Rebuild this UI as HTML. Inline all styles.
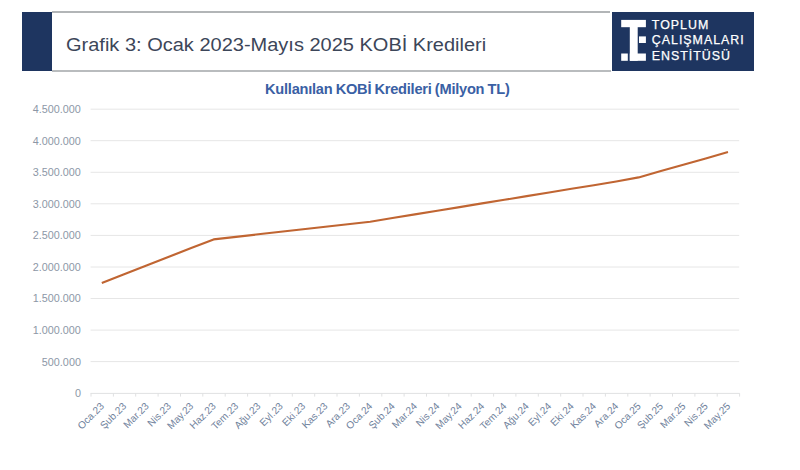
<!DOCTYPE html>
<html><head><meta charset="utf-8">
<style>
html,body{margin:0;padding:0;}
body{width:800px;height:470px;overflow:hidden;background:#fff;position:relative;font-family:"Liberation Sans",sans-serif;}
.hl{position:absolute;left:51.8px;width:557.8px;height:2px;background:#b2b5b7;}
.nav{position:absolute;left:22.4px;top:11.8px;width:29.4px;height:59px;background:#1e3560;}
.title{position:absolute;left:65.8px;top:34.5px;font-size:17.5px;color:#3c4659;white-space:nowrap;transform:scaleX(1.143);transform-origin:0 0;}
.logo{position:absolute;left:611.5px;top:12px;width:142px;height:58.5px;background:#1e3560;}
.lt{position:absolute;left:651.8px;color:#fff;font-size:12.4px;letter-spacing:1.0px;-webkit-text-stroke:0.25px #fff;white-space:nowrap;line-height:1;}
.ctitle{position:absolute;left:265.3px;top:79.9px;font-size:15.3px;font-weight:bold;color:#3a60a4;white-space:nowrap;word-spacing:-0.6px;letter-spacing:-0.25px;transform:scaleX(0.955);transform-origin:0 0;}
svg{position:absolute;left:0;top:0;}
</style></head><body>
<div class="hl" style="top:11px"></div><div class="hl" style="top:69.8px;width:559.7px;height:1.8px;background:#b9bcbe"></div>
<div class="nav"></div>
<div class="title">Grafik 3: Ocak 2023-Mayıs 2025 KOBİ Kredileri</div>
<div class="logo"></div>
<svg width="800" height="470" viewBox="0 0 800 470">
<g fill="#fff">
<rect x="621.2" y="19.9" width="24.7" height="7.3"/>
<rect x="629.8" y="27" width="7.9" height="33.8"/>
<rect x="629.8" y="53.5" width="16.1" height="7.3"/>
<rect x="621.2" y="53.5" width="6.6" height="7.3"/>
<rect x="639" y="36.4" width="6.9" height="6.6"/>
</g>
<g stroke="#e6e6e6" stroke-width="1"><line x1="90.6" y1="361.6" x2="739.2" y2="361.6"/><line x1="90.6" y1="330.1" x2="739.2" y2="330.1"/><line x1="90.6" y1="298.5" x2="739.2" y2="298.5"/><line x1="90.6" y1="267.0" x2="739.2" y2="267.0"/><line x1="90.6" y1="235.4" x2="739.2" y2="235.4"/><line x1="90.6" y1="203.8" x2="739.2" y2="203.8"/><line x1="90.6" y1="172.3" x2="739.2" y2="172.3"/><line x1="90.6" y1="140.7" x2="739.2" y2="140.7"/><line x1="90.6" y1="109.2" x2="739.2" y2="109.2"/></g>
<g stroke="#e0e1e2" stroke-width="1"><line x1="90.6" y1="393.4" x2="739.6" y2="393.4"/><line x1="91.0" y1="393.2" x2="91.0" y2="396.6"/><line x1="113.4" y1="393.2" x2="113.4" y2="396.6"/><line x1="135.7" y1="393.2" x2="135.7" y2="396.6"/><line x1="158.1" y1="393.2" x2="158.1" y2="396.6"/><line x1="180.5" y1="393.2" x2="180.5" y2="396.6"/><line x1="202.8" y1="393.2" x2="202.8" y2="396.6"/><line x1="225.2" y1="393.2" x2="225.2" y2="396.6"/><line x1="247.6" y1="393.2" x2="247.6" y2="396.6"/><line x1="269.9" y1="393.2" x2="269.9" y2="396.6"/><line x1="292.3" y1="393.2" x2="292.3" y2="396.6"/><line x1="314.7" y1="393.2" x2="314.7" y2="396.6"/><line x1="337.0" y1="393.2" x2="337.0" y2="396.6"/><line x1="359.4" y1="393.2" x2="359.4" y2="396.6"/><line x1="381.8" y1="393.2" x2="381.8" y2="396.6"/><line x1="404.1" y1="393.2" x2="404.1" y2="396.6"/><line x1="426.5" y1="393.2" x2="426.5" y2="396.6"/><line x1="448.8" y1="393.2" x2="448.8" y2="396.6"/><line x1="471.2" y1="393.2" x2="471.2" y2="396.6"/><line x1="493.6" y1="393.2" x2="493.6" y2="396.6"/><line x1="515.9" y1="393.2" x2="515.9" y2="396.6"/><line x1="538.3" y1="393.2" x2="538.3" y2="396.6"/><line x1="560.7" y1="393.2" x2="560.7" y2="396.6"/><line x1="583.0" y1="393.2" x2="583.0" y2="396.6"/><line x1="605.4" y1="393.2" x2="605.4" y2="396.6"/><line x1="627.8" y1="393.2" x2="627.8" y2="396.6"/><line x1="650.1" y1="393.2" x2="650.1" y2="396.6"/><line x1="672.5" y1="393.2" x2="672.5" y2="396.6"/><line x1="694.9" y1="393.2" x2="694.9" y2="396.6"/><line x1="717.2" y1="393.2" x2="717.2" y2="396.6"/><line x1="739.6" y1="393.2" x2="739.6" y2="396.6"/></g>
<g fill="#8c97a6" font-size="10.8" text-anchor="end" font-family="Liberation Sans"><text x="80.9" y="397.1">0</text><text x="80.9" y="365.5">500.000</text><text x="80.9" y="334.0">1.000.000</text><text x="80.9" y="302.4">1.500.000</text><text x="80.9" y="270.9">2.000.000</text><text x="80.9" y="239.3">2.500.000</text><text x="80.9" y="207.7">3.000.000</text><text x="80.9" y="176.2">3.500.000</text><text x="80.9" y="144.6">4.000.000</text><text x="80.9" y="113.1">4.500.000</text></g>
<g fill="#70829c" font-size="10.1" text-anchor="end" font-family="Liberation Sans" dominant-baseline="middle"><text transform="translate(102.8,405.0) rotate(-45)">Oca.23</text><text transform="translate(125.1,405.0) rotate(-45)">Şub.23</text><text transform="translate(147.5,405.0) rotate(-45)">Mar.23</text><text transform="translate(169.9,405.0) rotate(-45)">Nis.23</text><text transform="translate(192.2,405.0) rotate(-45)">May.23</text><text transform="translate(214.6,405.0) rotate(-45)">Haz.23</text><text transform="translate(237.0,405.0) rotate(-45)">Tem.23</text><text transform="translate(259.3,405.0) rotate(-45)">Ağu.23</text><text transform="translate(281.7,405.0) rotate(-45)">Eyl.23</text><text transform="translate(304.1,405.0) rotate(-45)">Eki.23</text><text transform="translate(326.4,405.0) rotate(-45)">Kas.23</text><text transform="translate(348.8,405.0) rotate(-45)">Ara.23</text><text transform="translate(371.2,405.0) rotate(-45)">Oca.24</text><text transform="translate(393.5,405.0) rotate(-45)">Şub.24</text><text transform="translate(415.9,405.0) rotate(-45)">Mar.24</text><text transform="translate(438.3,405.0) rotate(-45)">Nis.24</text><text transform="translate(460.6,405.0) rotate(-45)">May.24</text><text transform="translate(483.0,405.0) rotate(-45)">Haz.24</text><text transform="translate(505.4,405.0) rotate(-45)">Tem.24</text><text transform="translate(527.7,405.0) rotate(-45)">Ağu.24</text><text transform="translate(550.1,405.0) rotate(-45)">Eyl.24</text><text transform="translate(572.5,405.0) rotate(-45)">Eki.24</text><text transform="translate(594.8,405.0) rotate(-45)">Kas.24</text><text transform="translate(617.2,405.0) rotate(-45)">Ara.24</text><text transform="translate(639.6,405.0) rotate(-45)">Oca.25</text><text transform="translate(661.9,405.0) rotate(-45)">Şub.25</text><text transform="translate(684.3,405.0) rotate(-45)">Mar.25</text><text transform="translate(706.7,405.0) rotate(-45)">Nis.25</text><text transform="translate(729.0,405.0) rotate(-45)">May.25</text></g>
<polyline points="101.8,283.0 124.1,274.3 146.5,265.6 168.9,256.8 191.2,248.1 213.6,239.4 236.0,236.9 258.3,234.3 280.7,231.8 303.1,229.3 325.4,226.8 347.8,224.2 370.2,221.7 392.5,218.0 414.9,214.4 437.3,210.7 459.6,207.1 482.0,203.4 504.4,199.8 526.7,196.1 549.1,192.5 571.5,188.8 593.8,185.2 616.2,181.5 638.6,177.4 660.9,171.1 683.3,164.8 705.7,158.4 728.0,152.1" fill="none" stroke="#c06532" stroke-width="2.1" stroke-linejoin="round" stroke-linecap="butt"/>
</svg>
<div class="lt" style="top:18.7px">TOPLUM</div>
<div class="lt" style="top:34.3px">ÇALIŞMALARI</div>
<div class="lt" style="top:49.9px">ENSTİTÜSÜ</div>
<div class="ctitle">Kullanılan KOBİ Kredileri (Milyon TL)</div>
</body></html>
